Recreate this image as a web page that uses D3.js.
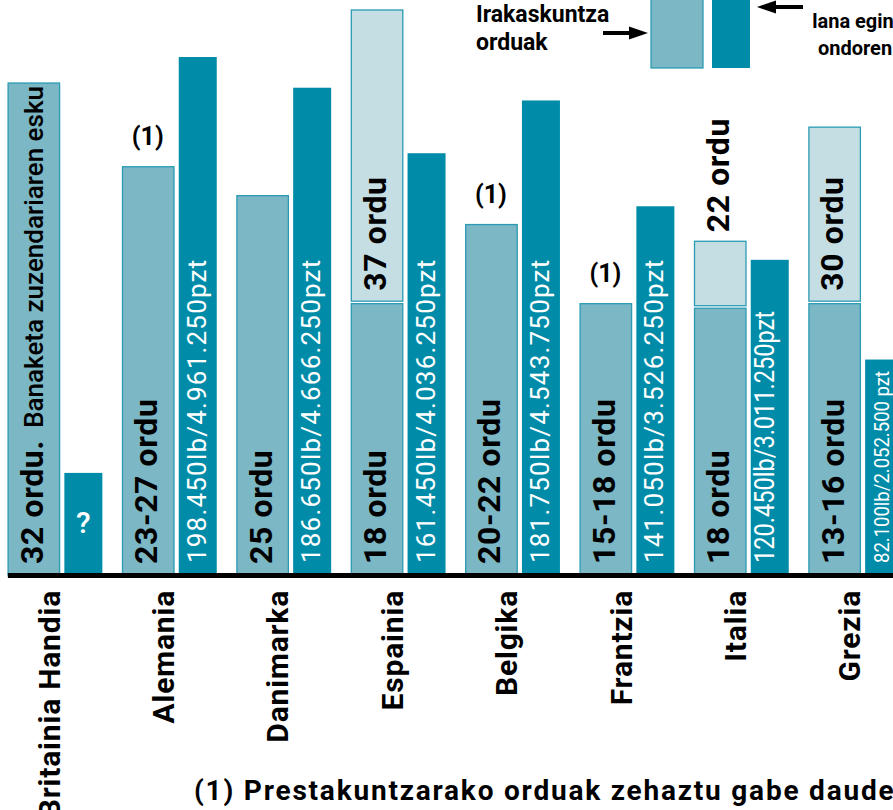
<!DOCTYPE html>
<html>
<head>
<meta charset="utf-8">
<script src="https://cdn.jsdelivr.net/npm/d3@7"></script>
<style>
    body { margin: 0; background: #fff; }
    svg { display: block; font-family: Roboto, 'Liberation Sans', sans-serif; }
</style>
</head>
<body>
<svg width="893" height="810"></svg>
<script>
// Herrialdeak
let countries = ['Britainia Handia', 'Alemania', 'Danimarka', 'Espainia', 'Belgika', 'Frantzia', 'Italia', 'Grezia']

// Irakaskuntza orduak (barraren altuera, ordutan)
let teachingHours = [32.2, 26.7, 24.8, 17.7, 22.9, 17.7, 17.4, 17.7]
let teachingLabels = ['32 ordu.', '23-27 ordu', '25 ordu', '18 ordu', '20-22 ordu', '15-18 ordu', '18 ordu', '13-16 ordu']
let teachingNotes = ['Banaketa zuzendariaren esku', null, null, null, null, null, null, null]
let footnoteFlags = [false, true, false, false, true, true, false, false]

// Ordu guztiak (irakaskuntza + beste lanak)
let totalHours = [null, null, null, 37, null, null, 21.8, 29.3]
let totalLabels = [null, null, null, '37 ordu', null, null, '22 ordu', '30 ordu']

// Urteko soldata (libera)
let salaryLb = [38500, 198450, 186650, 161450, 181750, 141050, 120450, 82100]
let salaryLabels = ['?', '198.450lb/4.961.250pzt', '186.650lb/4.666.250pzt', '161.450lb/4.036.250pzt',
    '181.750lb/4.543.750pzt', '141.050lb/3.526.250pzt', '120.450lb/3.011.250pzt', '82.100lb/2.052.500 pzt']

let data = countries.map((c, i) => ({
    country: c,
    hours: teachingHours[i],
    hoursLabel: teachingLabels[i],
    note: teachingNotes[i],
    flag: footnoteFlags[i],
    total: totalHours[i],
    totalLabel: totalLabels[i],
    salary: salaryLb[i],
    salaryLabel: salaryLabels[i]
}))

let colors = { light: '#7bb7c5', pale: '#c5dee4', dark: '#008ca8', edge: '#2a9bb3' }

// condensed salary labels
let squeeze = { 'Italia': { size: 28, length: 252, off: 23 }, 'Grezia': { size: 20, length: 192, off: 24 } }

let svg = d3.select('svg')
let baseY = 575

let scale = {
    x: d3.scaleBand().domain(countries).range([7.35, 922.55]).padding(0),
    hours: d3.scaleLinear().domain([0, 37]).range([573, 10]),
    salary: d3.scaleLinear().domain([0, 200000]).range([573, 53])
}

let lightW = 51.5, darkOff = 57, darkW = 38

let g = svg.append('g')

// Light bars: teaching hours
g.selectAll('.hours')
    .data(data)
    .enter()
    .append('rect')
    .attr('class', 'hours')
    .attr('x', d => scale.x(d.country) + 0.75)
    .attr('y', d => scale.hours(d.hours))
    .attr('width', lightW)
    .attr('height', d => baseY - scale.hours(d.hours))
    .attr('fill', colors.light)
    .attr('stroke', colors.edge)
    .attr('stroke-width', 1.3)

// Pale bars: total hours on top
g.selectAll('.total')
    .data(data.filter(d => d.total))
    .enter()
    .append('rect')
    .attr('class', 'total')
    .attr('x', d => scale.x(d.country) + 0.75)
    .attr('y', d => scale.hours(d.total))
    .attr('width', lightW)
    .attr('height', d => scale.hours(d.hours) - scale.hours(d.total) - 2.5)
    .attr('fill', colors.pale)
    .attr('stroke', colors.edge)
    .attr('stroke-width', 1.3)

// Dark bars: salary
g.selectAll('.salary')
    .data(data)
    .enter()
    .append('rect')
    .attr('class', 'salary')
    .attr('x', d => scale.x(d.country) + darkOff)
    .attr('y', d => scale.salary(d.salary))
    .attr('width', darkW)
    .attr('height', d => baseY - scale.salary(d.salary))
    .attr('fill', colors.dark)

// Hours labels inside light bars
let hl = g.selectAll('.hours-label')
    .data(data)
    .enter()
    .append('text')
    .attr('class', 'hours-label')
    .attr('transform', d => `translate(${scale.x(d.country) + 35.5},564) rotate(-90)`)
    .attr('fill', '#000')
    .attr('letter-spacing', 0.6)

hl.append('tspan')
    .attr('font-size', 32)
    .attr('font-weight', 'bold')
    .text(d => d.hoursLabel)

hl.filter(d => d.note)
    .append('tspan')
    .attr('dx', 12)
    .attr('font-size', 26)
    .attr('font-weight', 500)
    .attr('letter-spacing', 0)
    .text(d => d.note)

// Total hours labels (inside pale part if it fits, otherwise above)
g.selectAll('.total-label')
    .data(data.filter(d => d.totalLabel))
    .enter()
    .append('text')
    .attr('class', 'total-label')
    .attr('transform', d => {
        let lowTop = scale.hours(d.hours)
        let topY = scale.hours(d.total)
        let y = (lowTop - topY > 130) ? lowTop - 13 : topY - 9
        return `translate(${scale.x(d.country) + 35},${y}) rotate(-90)`
    })
    .attr('font-size', 32)
    .attr('font-weight', 'bold')
    .attr('letter-spacing', 0.6)
    .text(d => d.totalLabel)

// Footnote marks
g.selectAll('.flag')
    .data(data.filter(d => d.flag))
    .enter()
    .append('text')
    .attr('class', 'flag')
    .attr('x', d => scale.x(d.country) + 26)
    .attr('y', d => scale.hours(d.hours) - 22)
    .attr('text-anchor', 'middle')
    .attr('font-size', 25)
    .attr('font-weight', 'bold')
    .text('(1)')

// Salary labels
g.selectAll('.salary-label')
    .data(data.filter(d => d.salaryLabel !== '?'))
    .enter()
    .append('text')
    .attr('class', 'salary-label')
    .attr('transform', d => {
        let off = squeeze[d.country] ? squeeze[d.country].off : 27
        return `translate(${scale.x(d.country) + darkOff + off},563) rotate(-90)`
    })
    .attr('fill', '#fff')
    .attr('font-size', d => squeeze[d.country] ? squeeze[d.country].size : 26)
    .attr('letter-spacing', d => squeeze[d.country] ? 0 : 1.2)
    .attr('textLength', d => squeeze[d.country] ? squeeze[d.country].length : null)
    .attr('lengthAdjust', 'spacingAndGlyphs')
    .text(d => d.salaryLabel)

g.selectAll('.unknown')
    .data(data.filter(d => d.salaryLabel === '?'))
    .enter()
    .append('text')
    .attr('x', d => scale.x(d.country) + darkOff + darkW / 2)
    .attr('y', 533)
    .attr('text-anchor', 'middle')
    .attr('fill', '#fff')
    .attr('font-size', 30)
    .attr('font-weight', 500)
    .text(d => d.salaryLabel)

// X axis with country names
let gx = svg.append('g')
    .attr('transform', `translate(0,${baseY})`)
    .call(d3.axisBottom(scale.x).tickSize(0).tickSizeOuter(0))

gx.select('.domain').attr('stroke', '#000').attr('stroke-width', 5)
gx.selectAll('.tick text')
    .attr('transform', 'rotate(-90)')
    .attr('text-anchor', 'end')
    .attr('x', -15)
    .attr('y', -5)
    .attr('dy', null)
    .attr('fill', '#000')
    .attr('font-family', 'Roboto, sans-serif')
    .attr('font-size', 30)
    .attr('font-weight', 'bold')
    .attr('letter-spacing', 0.8)

// Legend
let legend = svg.append('g')
legend.append('rect').attr('x', 651).attr('y', -5).attr('width', 52).attr('height', 73)
    .attr('fill', colors.light).attr('stroke', colors.edge).attr('stroke-width', 1.3)
legend.append('rect').attr('x', 712).attr('y', -5).attr('width', 38).attr('height', 73)
    .attr('fill', colors.dark)

legend.append('text').attr('x', 476).attr('y', 22).attr('font-size', 23).attr('font-weight', 'bold').text('Irakaskuntza')
legend.append('text').attr('x', 476).attr('y', 50).attr('font-size', 23).attr('font-weight', 'bold').text('orduak')
legend.append('text').attr('x', 853).attr('y', 28).attr('text-anchor', 'middle').attr('font-size', 20).attr('font-weight', 'bold').text('lana egin')
legend.append('text').attr('x', 855).attr('y', 55).attr('text-anchor', 'middle').attr('font-size', 20).attr('font-weight', 'bold').text('ondoren')

// arrows
legend.append('line').attr('x1', 603).attr('x2', 635).attr('y1', 33).attr('y2', 33).attr('stroke', '#000').attr('stroke-width', 4)
legend.append('path').attr('d', 'M648,33L629,26.5L629,39.5Z').attr('fill', '#000')
legend.append('line').attr('x1', 771).attr('x2', 803).attr('y1', 7).attr('y2', 7).attr('stroke', '#000').attr('stroke-width', 4)
legend.append('path').attr('d', 'M757,7L776,0.5L776,13.5Z').attr('fill', '#000')

// Footnote
svg.append('text')
    .attr('x', 194)
    .attr('y', 800)
    .attr('font-size', 28)
    .attr('font-weight', 'bold')
    .attr('letter-spacing', 1.8)
    .text('(1) Prestakuntzarako orduak zehaztu gabe daude')
</script>
</body>
</html>
